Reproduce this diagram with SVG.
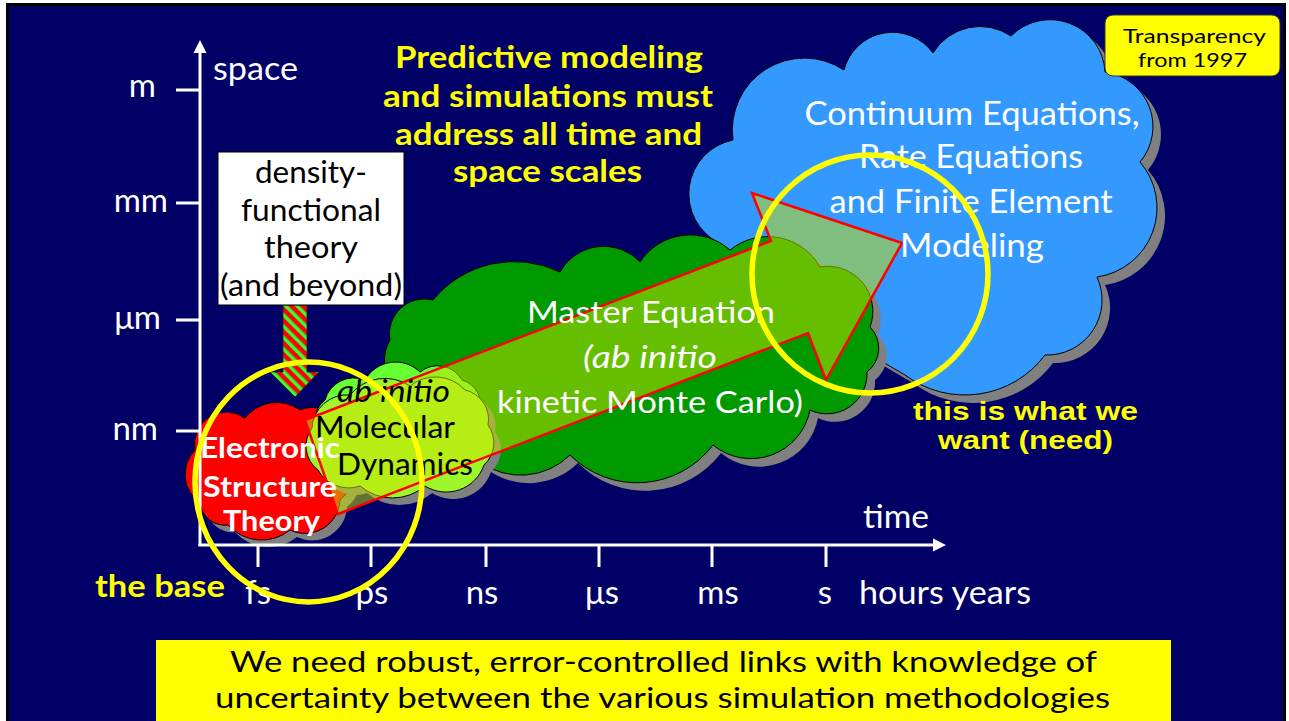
<svg xmlns="http://www.w3.org/2000/svg" width="1289" height="721" viewBox="0 0 1289 721">
<defs>
<style>
.cal{font-family:Lato,"Open Sans","Liberation Sans",sans-serif}
.ari{font-family:"Liberation Sans",Arial,sans-serif}
.w{fill:#fff}
.k{fill:#000}
.y{fill:#ff0}
.b{font-weight:bold}
.i{font-style:italic}
.mid{text-anchor:middle}
.end{text-anchor:end}
.ax{stroke:#fff;stroke-width:3;fill:none}
.cloud{stroke:#000;stroke-width:1}
.shadow{fill:#808080;stroke:none}
.ring{fill:none;stroke:#ff0;stroke-width:5.5}
</style>
<pattern id="stripes" width="8" height="8" patternUnits="userSpaceOnUse" patternTransform="rotate(-45)">
<rect width="8" height="8" fill="#ff0000"/>
<rect width="3.5" height="8" fill="#33ff33"/>
</pattern>
<path id="cBlue" d="M719 243 A55 55 0 0 1 733 140 A72 72 0 0 1 844 70 A50 50 0 0 1 933 53 A55 55 0 0 1 1011 36 A55 55 0 0 1 1105 72 A55 55 0 0 1 1140 162 A70 70 0 0 1 1097 277 A55 55 0 0 1 1045 355 A100 100 0 0 1 905 375 L760 290 Z"/>
<path id="cGreen" d="M420 400 A40 40 0 0 1 390 340 A35 35 0 0 1 433 300 A105 105 0 0 1 560 272 A50 50 0 0 1 640 262 A60 60 0 0 1 730 250 A60 60 0 0 1 820 267 A45 45 0 0 1 870 327 A30 30 0 0 1 867 372 A40 40 0 0 1 810 410 A60 60 0 0 1 713 445 A95 95 0 0 1 570 455 A70 70 0 0 1 480 462 Z"/>
<path id="cRed" d="M200 503 A35 35 0 0 1 195 450 A32 32 0 0 1 245 418 A40 40 0 0 1 300 410 A30 30 0 0 1 342 440 A40 40 0 0 1 340 500 A35 35 0 0 1 290 530 A45 45 0 0 1 228 525 A25 25 0 0 1 200 503 Z"/>
<path id="cMD" d="M318 470 A30 30 0 0 1 312 428 A35 35 0 0 1 350 395 A45 45 0 0 1 410 386 A40 40 0 0 1 465 390 A30 30 0 0 1 488 425 A30 30 0 0 1 484 465 A40 40 0 0 1 425 486 A50 50 0 0 1 360 486 A35 35 0 0 1 318 470 Z"/>
<path id="cMD2" d="M325 440 A25 25 0 0 1 325 400 A30 30 0 0 1 365 380 A35 35 0 0 1 420 372 A28 28 0 0 1 462 380 A25 25 0 0 1 478 415 Z"/>
</defs>

<rect x="7.5" y="4.5" width="1277" height="720" fill="#000066" stroke="#000" stroke-width="3"/>

<g id="node-continuum">
<use href="#cBlue" class="shadow" transform="translate(8,8)"/>
<use href="#cBlue" class="cloud" fill="#3399ff"/>
</g>
<g id="node-master">
<use href="#cGreen" class="shadow" transform="translate(8,8)"/>
<use href="#cGreen" class="cloud" fill="#009900"/>
</g>
<g id="node-est">
<use href="#cRed" class="shadow" transform="translate(7,7)"/>
<use href="#cRed" class="cloud" fill="#ff0000"/>
</g>
<g id="node-md">
<use href="#cMD" class="shadow" transform="translate(7,7)"/>
<use href="#cMD2" class="cloud" fill="#66ff33"/>
<use href="#cMD" class="cloud" fill="#9ef72a"/>
</g>

<g id="connectors">
<polygon points="305,420 771,241 752,193 902,243 826,380 808,333 338,514" fill="#cce400" fill-opacity="0.5" stroke="#ff0000" stroke-width="2.5" stroke-linejoin="miter"/>
<path d="M283 305 L307 305 L307 372 L319 372 L295 397 L270 372 L283 372 Z" fill="url(#stripes)" stroke="#222" stroke-width="0.8"/>
</g>

<g id="node-dft">
<rect x="218" y="152" width="186" height="153" fill="#fff" stroke="#000" stroke-width="1"/>
<g class="cal k mid" font-size="31">
<text x="311" y="183" textLength="112" lengthAdjust="spacingAndGlyphs">density-</text>
<text x="311" y="221" textLength="140" lengthAdjust="spacingAndGlyphs">functional</text>
<text x="311" y="258" textLength="94" lengthAdjust="spacingAndGlyphs">theory</text>
<text x="311" y="296" textLength="182" lengthAdjust="spacingAndGlyphs">(and beyond)</text>
</g>
</g>

<g id="labels-clouds" class="cal mid">
<g class="w" font-size="32">
<text x="972" y="125" textLength="335" lengthAdjust="spacingAndGlyphs">Continuum Equations,</text>
<text x="971" y="168" textLength="224" lengthAdjust="spacingAndGlyphs">Rate Equations</text>
<text x="971" y="213" textLength="283" lengthAdjust="spacingAndGlyphs">and Finite Element</text>
<text x="972" y="257" textLength="144" lengthAdjust="spacingAndGlyphs">Modeling</text>
</g>
<g class="w" font-size="31">
<text x="651" y="323" textLength="248" lengthAdjust="spacingAndGlyphs">Master Equation</text>
<text x="650" y="368" class="i" textLength="134" lengthAdjust="spacingAndGlyphs">(ab initio</text>
<text x="650" y="413" textLength="306" lengthAdjust="spacingAndGlyphs">kinetic Monte Carlo)</text>
</g>
<g class="k" font-size="30">
<text x="393.5" y="402" class="i" textLength="113" lengthAdjust="spacingAndGlyphs">ab initio</text>
<text x="385" y="438" textLength="140" lengthAdjust="spacingAndGlyphs">Molecular</text>
<text x="405" y="475" textLength="136" lengthAdjust="spacingAndGlyphs">Dynamics</text>
</g>
<g class="w b" font-size="29">
<text x="270" y="458" textLength="140" lengthAdjust="spacingAndGlyphs">Electronic</text>
<text x="270" y="497" textLength="134" lengthAdjust="spacingAndGlyphs">Structure</text>
<text x="271.5" y="531" textLength="97" lengthAdjust="spacingAndGlyphs">Theory</text>
</g>
</g>

<g id="axes">
<line class="ax" x1="200" y1="546" x2="200" y2="50"/>
<polygon points="193.5,53 206.5,53 200,40" fill="#fff"/>
<line class="ax" x1="198.5" y1="545" x2="936" y2="545"/>
<polygon points="933,538.5 933,551.5 946,545" fill="#fff"/>
<path class="ax" d="M176 90 H200 M176 203 H200 M176 320 H200 M176 431 H200 M258 545 V567 M371 545 V567 M486 545 V567 M599 545 V567 M712 545 V567 M826 545 V567"/>
<g class="cal w" font-size="33">
<text x="213" y="80" textLength="85" lengthAdjust="spacingAndGlyphs">space</text>
<text x="863" y="528" textLength="66" lengthAdjust="spacingAndGlyphs">time</text>
<text x="156" y="97" class="end">m</text>
<text x="168" y="212" class="end">mm</text>
<text x="161" y="329" class="end">μm</text>
<text x="158" y="440" class="end">nm</text>
<text x="258" y="604" class="mid">fs</text>
<text x="372" y="604" class="mid">ps</text>
<text x="482" y="604" class="mid">ns</text>
<text x="602" y="604" class="mid">μs</text>
<text x="718" y="604" class="mid">ms</text>
<text x="825" y="604" class="mid">s</text>
<text x="859" y="604" textLength="172" lengthAdjust="spacingAndGlyphs">hours years</text>
</g>
</g>

<g id="rings">
<ellipse class="ring" cx="308.5" cy="482" rx="113.5" ry="120"/>
<ellipse class="ring" cx="870" cy="274" rx="118" ry="119"/>
</g>

<g id="title" class="cal y b mid" font-size="30">
<text x="549" y="68" textLength="308" lengthAdjust="spacingAndGlyphs">Predictive modeling</text>
<text x="548" y="107" textLength="330" lengthAdjust="spacingAndGlyphs">and simulations must</text>
<text x="548.5" y="145" textLength="307" lengthAdjust="spacingAndGlyphs">address all time and</text>
<text x="547.5" y="182" textLength="189" lengthAdjust="spacingAndGlyphs">space scales</text>
</g>

<g id="note-want" class="ari y b mid" font-size="26">
<text x="1025.5" y="419.5" textLength="225" lengthAdjust="spacingAndGlyphs">this is what we</text>
<text x="1025.5" y="448.5" textLength="175" lengthAdjust="spacingAndGlyphs">want (need)</text>
</g>

<g id="note-base">
<text x="95" y="597" class="cal y b" font-size="30" textLength="130" lengthAdjust="spacingAndGlyphs">the base</text>
</g>

<g id="note-transparency">
<rect x="1105" y="15" width="175" height="61" rx="8" fill="#ff0" stroke="#333" stroke-width="1"/>
<g class="cal k mid" font-size="20">
<text x="1194.5" y="43" textLength="143" lengthAdjust="spacingAndGlyphs">Transparency</text>
<text x="1192.5" y="67" textLength="109" lengthAdjust="spacingAndGlyphs">from 1997</text>
</g>
</g>

<g id="note-bottom">
<rect x="156" y="640" width="1015" height="81" fill="#ff0"/>
<g class="cal k mid" font-size="29">
<text x="663.5" y="672" textLength="867" lengthAdjust="spacingAndGlyphs">We need robust, error-controlled links with knowledge of</text>
<text x="662.5" y="708" textLength="895" lengthAdjust="spacingAndGlyphs">uncertainty between the various simulation methodologies</text>
</g>
</g>
</svg>
